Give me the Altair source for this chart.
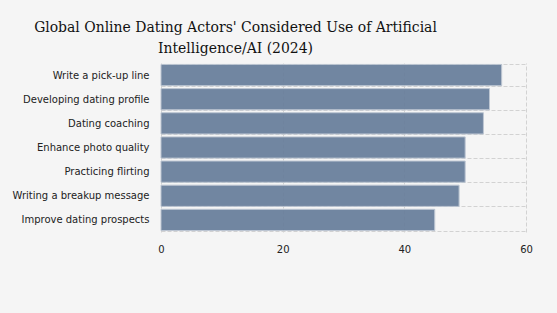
import altair as alt
import pandas as pd

categories = [
    "Write a pick-up line",
    "Developing dating profile",
    "Dating coaching",
    "Enhance photo quality",
    "Practicing flirting",
    "Writing a breakup message",
    "Improve dating prospects",
]
values = [56, 54, 53, 50, 50, 49, 45]

df = pd.DataFrame({"activity": categories, "share": values})

grid_color = "#d2d2d2"

chart = alt.Chart(df).mark_bar(
    color="#687e9b", stroke="#b9c3d0", strokeWidth=1, opacity=0.93
).encode(
    x=alt.X("share:Q", title=None,
            scale=alt.Scale(domain=[0, 60], nice=False),
            axis=alt.Axis(values=[0, 20, 40, 60], grid=True, gridDash=[4, 2],
                          gridColor=grid_color, domain=False, ticks=False,
                          labelFlush=False,
                          labelPadding=12, labelFont="DejaVu Sans", labelFontSize=10,
                          labelColor="#222222")),
    y=alt.Y("activity:N", title=None, sort=categories,
            scale=alt.Scale(paddingInner=0.12, paddingOuter=0.06),
            axis=alt.Axis(grid=True, gridDash=[4, 2], gridColor=grid_color,
                          tickBand="extent", ticks=False, domain=False,
                          labelPadding=12, labelFont="DejaVu Sans", labelFontSize=10,
                          labelColor="#222222")),
).properties(
    width=365,
    height=169,
    autosize=alt.AutoSizeParams(type="none"),
    padding={"left": 161, "top": 63, "right": 31, "bottom": 81},
    background="#f5f5f5",
    title=alt.TitleParams(
        ["Global Online Dating Actors' Considered Use of Artificial",
         "Intelligence/AI (2024)"],
        font="DejaVu Serif Condensed", fontSize=15.5, fontWeight="normal",
        color="#111111",
        anchor="middle", frame="group", dx=-108, dy=8, offset=10, lineHeight=21,
    ),
).configure_view(stroke=None)

chart.save("out.html", embed_options={"renderer": "svg", "actions": False})
